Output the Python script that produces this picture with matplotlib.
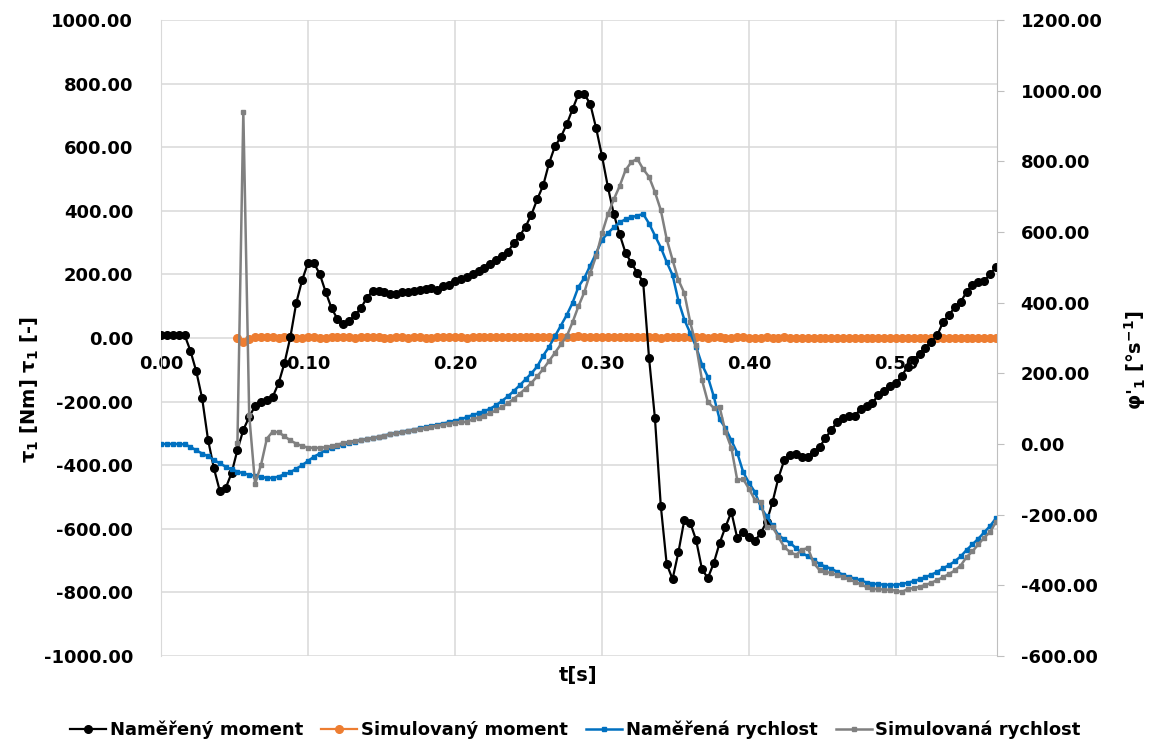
"""
Graf: naměřený a simulovaný moment + rychlost (dvě osy y)
"""
import numpy as np
import matplotlib.pyplot as plt
from matplotlib.ticker import FormatStrFormatter, MultipleLocator

# krok vzorkování [s]
DT = 0.004

# naměřený moment [Nm] (levá osa), od t = 0
moment_meas = [
    10, 10, 10, 10, 10, -40, -105, -190, -320, -410,
    -481, -472, -425, -352, -289, -248, -214, -201, -195, -185,
    -142, -79, 3, 110, 182, 236, 236, 201, 145, 94,
    60, 44, 53, 72, 94, 126, 148, 149, 145, 138,
    138, 144, 145, 148, 151, 153, 156, 150, 163, 168,
    179, 185, 192, 201, 211, 220, 233, 245, 258, 272,
    298, 321, 350, 388, 437, 480, 550, 603, 632, 672,
    720, 767, 767, 736, 660, 572, 475, 390, 326, 268,
    236, 205, 176, -63, -252, -528, -711, -758, -673, -572,
    -581, -635, -727, -755, -708, -645, -594, -547, -629, -610,
    -626, -638, -613, -578, -516, -440, -384, -368, -365, -374,
    -374, -358, -343, -315, -289, -264, -250, -246, -245, -222,
    -214, -204, -179, -166, -150, -142, -118, -90, -70, -50,
    -30, -12, 8, 50, 72, 97, 113, 145, 168, 176,
    179, 201, 223,
]

# simulovaný moment [Nm] (levá osa), začíná až od vzorku 13
SIM_START = 13
moment_sim = [
    0, -12, -4, 2, 3, 3, 2, 1, 2, 2,
    1, 1, 2, 2, 1, 1, 2, 3, 2, 2,
    1, 2, 2, 3, 2, 1, 1, 2, 2, 1,
    2, 2, 1, 1, 2, 3, 2, 2, 2, 1,
    2, 3, 2, 2, 2, 3, 3, 2, 2, 3,
    3, 3, 2, 3, 4, 3, 3, 4, 5, 4,
    3, 3, 4, 3, 3, 2, 3, 2, 2, 3,
    2, 2, 1, 2, 2, 2, 3, 2, 2, 2,
    1, 2, 2, 1, 1, 2, 2, 1, 1, 1,
    2, 1, 1, 2, 1, 1, 0, 1, 1, 1,
    0, 1, 1, 0, 1, 0, 0, 1, 1, 0,
    0, 1, 0, 0, 1, 0, 0, 0, 1, 0,
    0, 0, 1, 0, 0, 0, 0, 0, 0, 0,
]

# naměřená rychlost [°/s] (pravá osa), od t = 0
speed_meas = [
    0, 0, 0, 0, -1, -8, -18, -27, -35, -45,
    -55, -64, -72, -78, -83, -87, -90, -93, -96, -96,
    -92, -86, -80, -70, -60, -48, -36, -27, -18, -12,
    -6, -2, 3, 7, 10, 14, 17, 20, 24, 28,
    31, 35, 38, 41, 44, 48, 51, 55, 58, 62,
    66, 70, 76, 82, 87, 93, 100, 110, 122, 135,
    150, 166, 183, 200, 220, 250, 275, 305, 335, 365,
    400, 445, 470, 505, 540, 578, 597, 613, 627, 636,
    642, 646, 651, 624, 590, 556, 515, 478, 405, 352,
    314, 275, 225, 190, 135, 70, 45, 10, -25, -79,
    -110, -136, -178, -205, -230, -258, -270, -280, -295, -308,
    -318, -328, -340, -347, -353, -362, -370, -376, -381, -386,
    -392, -395, -397, -398, -399, -399, -396, -393, -388, -383,
    -377, -370, -362, -352, -343, -332, -318, -300, -284, -268,
    -250, -232, -210,
]

# simulovaná rychlost [°/s] (pravá osa), od vzorku 13
speed_sim = [
    3, 940, 82, -113, -60, 15, 35, 33, 22, 10,
    1, -6, -10, -11, -11, -9, -6, -2, 3, 6,
    9, 11, 14, 17, 21, 24, 27, 30, 33, 36,
    39, 42, 45, 49, 52, 55, 58, 60, 61, 63,
    70, 75, 80, 88, 95, 105, 115, 128, 142, 157,
    173, 192, 212, 235, 258, 282, 305, 345, 390, 430,
    484, 532, 596, 650, 692, 730, 775, 798, 807, 778,
    756, 713, 662, 580, 521, 464, 427, 345, 280, 181,
    119, 102, 105, 34, -11, -102, -99, -127, -158, -164,
    -235, -235, -263, -292, -306, -314, -300, -294, -337, -357,
    -362, -365, -371, -377, -383, -390, -397, -405, -410, -411,
    -412, -413, -415, -419, -410, -408, -404, -399, -393, -385,
    -377, -368, -358, -344, -320, -304, -284, -265, -249, -221,
]

LABELS = ["Naměřený moment", "Simulovaný moment",
          "Naměřená rychlost", "Simulovaná rychlost"]

plt.rcParams["font.family"] = ["DejaVu Sans"]
plt.rcParams["font.weight"] = "bold"
plt.rcParams["mathtext.default"] = "bf"

GRID = "#d9d9d9"

t = np.round(np.arange(len(moment_meas)) * DT, 3)
t_sim = t[SIM_START:]

fig = plt.figure(figsize=(11.51, 7.44), dpi=100)
ax = fig.add_axes([161 / 1151, 1 - 656 / 744, 836 / 1151, 636 / 744])
ax2 = ax.twinx()

# levá osa - momenty
l1, = ax.plot(t, moment_meas, color="black", lw=1.6, marker="o", ms=5.5,
              label=LABELS[0], zorder=3)
l2, = ax.plot(t_sim, moment_sim, color="#ED7D31", lw=1.6, marker="o", ms=5.5,
              label=LABELS[1], zorder=2)

# pravá osa - rychlosti
l3, = ax2.plot(t, speed_meas, color="#0070C0", lw=1.8, marker="s", ms=3.5,
               label=LABELS[2])
l4, = ax2.plot(t_sim, speed_sim, color="#808080", lw=1.8, marker="s", ms=3.5,
               label=LABELS[3])

ax.set_xlim(0, 0.5687)
ax.set_ylim(-1000, 1000)
ax2.set_ylim(-600, 1200)

ax.xaxis.set_major_locator(MultipleLocator(0.1))
ax.xaxis.set_major_formatter(FormatStrFormatter("%.2f"))
ax.yaxis.set_major_locator(MultipleLocator(200))
ax.yaxis.set_major_formatter(FormatStrFormatter("%.2f"))
ax2.yaxis.set_major_locator(MultipleLocator(200))
ax2.yaxis.set_major_formatter(FormatStrFormatter("%.2f"))

# mřížka
ax.grid(True, color=GRID, lw=1.1)
ax.set_axisbelow(True)

# osa x prochází nulou, popisky pod ní
ax.spines["bottom"].set_position(("data", 0))
ax.spines["bottom"].set_visible(False)
ax.spines["top"].set_visible(False)
for s in ("top", "bottom"):
    ax2.spines[s].set_visible(False)
ax.spines["left"].set_color(GRID)
ax2.spines["left"].set_visible(False)
ax2.spines["right"].set_color("#bfbfbf")
ax.spines["right"].set_visible(False)

ax.tick_params(axis="x", length=0, pad=12, labelsize=13)
ax.tick_params(axis="y", length=0, pad=20, labelsize=13)
ax2.tick_params(axis="y", length=5, color="#bfbfbf", pad=12, labelsize=13)

# popisky os
fig.text(30 / 1151, 1 - 390 / 744, "τ$_1$ [Nm] τ$_1$ [-]", rotation=90,
         ha="center", va="center", fontsize=14, fontweight="bold")
fig.text(1135 / 1151, 1 - 360 / 744, "φ$'_1$ [°s$^{-1}$]", rotation=90,
         ha="center", va="center", fontsize=14, fontweight="bold")
fig.text(578 / 1151, 1 - 676 / 744, "t[s]", ha="center", va="center",
         fontsize=14, fontweight="bold")

fig.legend(handles=[l1, l2, l3, l4], loc="center", ncol=4, frameon=False,
           bbox_to_anchor=(0.5, 1 - 730 / 744), fontsize=13,
           handlelength=2.0, handletextpad=0.2, columnspacing=1.0)

fig.savefig("out.png", dpi=100)
